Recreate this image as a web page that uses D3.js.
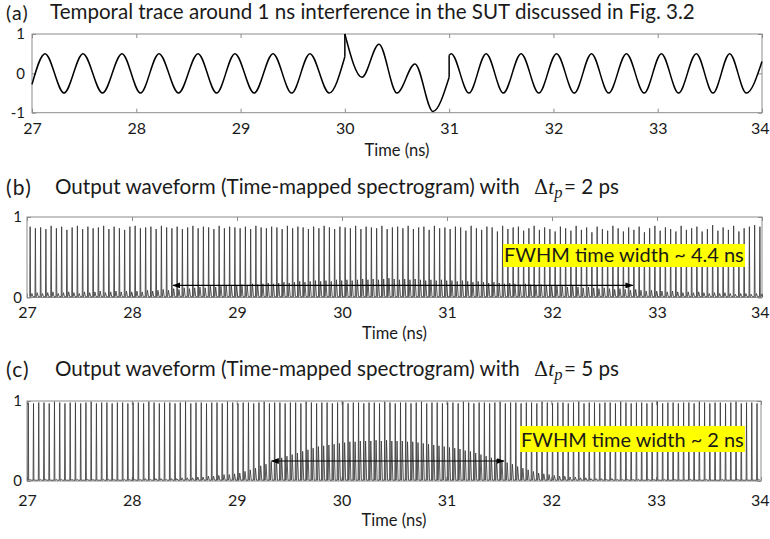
<!DOCTYPE html>
<html>
<head>
<meta charset="utf-8">
<script src="https://cdn.jsdelivr.net/npm/d3@7/dist/d3.min.js"></script>
<style>
  body { margin: 0; background: #fff; }
  svg text { font-family: Lato, "Open Sans", sans-serif; fill: #1a1a1a; }
</style>
</head>
<body>
<script>
const w = 770
const h = 539

// ---- values ----
const timeTicks = [27, 28, 29, 30, 31, 32, 33, 34]
const traceTicks = [-1, 0, 1]
const outputTicks = [0, 1]

// (a) turning points of the trace [time ns, amplitude]; a repeated time is a jump
const traceA = [
  [27.0, -0.28], [27.125, 0.5], [27.307, -0.5], [27.489, 0.5], [27.676, -0.5],
  [27.863, 0.5], [28.04, -0.5], [28.218, 0.5], [28.405, -0.5], [28.592, 0.5],
  [28.77, -0.5], [28.946, 0.5], [29.13, -0.5], [29.311, 0.5], [29.49, -0.5],
  [29.665, 0.5], [29.85, -0.5], [30.0, 0.42],
  [30.0, 1.0], [30.164, -0.1], [30.327, 0.74], [30.5, -0.5], [30.672, 0.24],
  [30.845, -0.97], [31.0, -0.1],
  [31.0, 0.46], [31.02, 0.5], [31.19, -0.5], [31.355, 0.5], [31.52, -0.5],
  [31.69, 0.5], [31.86, -0.5], [32.03, 0.5], [32.2, -0.5], [32.365, 0.5],
  [32.53, -0.5], [32.7, 0.5], [32.87, -0.5], [33.035, 0.5], [33.2, -0.5],
  [33.37, 0.5], [33.53, -0.5], [33.69, 0.5], [33.85, -0.5], [34.0, 0.3]
]

// (b), (c) one frame every 50 ps: tall tone peak and the low interference bump
const framePeriod = 0.05
const firstFrameB = 27.03
const firstFrameC = 27.012
const spikesB = [
  .88,.86,.87,.85,.89,.86,.88,.84,.87,.89,.85,.88,.86,.87,.89,.85,.88,.86,.84,.88,
  .89,.86,.87,.88,.85,.89,.87,.86,.88,.85,.87,.89,.86,.88,.87,.85,.89,.86,.88,.87,
  .86,.88,.85,.89,.87,.86,.88,.87,.85,.89,.86,.88,.87,.85,.88,.86,.89,.87,.85,.88,
  .87,.86,.89,.85,.88,.87,.86,.89,.85,.87,.88,.86,.89,.85,.87,.88,.84,.89,.86,.87,
  .85,.88,.87,.83,.89,.86,.84,.88,.87,.82,.89,.85,.87,.88,.83,.86,.89,.84,.87,.85,
  .82,.88,.86,.83,.89,.84,.87,.81,.88,.85,.83,.89,.86,.82,.87,.84,.88,.81,.86,.89,
  .83,.87,.85,.82,.89,.84,.86,.88,.82,.85,.90,.83,.87,.84,.89,.82,.86,.88,.90,.88
]
const bumpsB = [
  .05,.06,.05,.06,.07,.05,.06,.07,.06,.05,.07,.06,.07,.08,.06,.07,.08,.07,.08,.07,
  .08,.07,.09,.08,.09,.10,.09,.11,.10,.12,.11,.12,.13,.12,.14,.13,.14,.15,.14,.15,
  .16,.15,.17,.16,.17,.18,.17,.18,.19,.18,.19,.20,.19,.20,.21,.20,.21,.20,.22,.21,
  .22,.21,.22,.23,.22,.23,.22,.23,.24,.23,.22,.23,.22,.23,.22,.21,.22,.21,.22,.21,
  .21,.20,.21,.20,.19,.20,.19,.18,.19,.18,.17,.18,.17,.16,.17,.16,.15,.16,.15,.14,
  .15,.14,.13,.14,.13,.12,.13,.12,.11,.12,.11,.10,.11,.10,.09,.10,.09,.08,.09,.08,
  .08,.07,.08,.07,.06,.07,.06,.07,.06,.05,.06,.05,.06,.05,.04,.05,.05,.04,.05,.04
]
const spikesC = [
  .98,.97,.98,.98,.97,.99,.98,.97,.98,.98,.97,.98,.99,.97,.98,.98,.97,.98,.98,.97,
  .98,.98,.97,.99,.98,.97,.98,.98,.97,.98,.99,.97,.98,.98,.97,.98,.98,.97,.99,.98,
  .97,.98,.98,.97,.98,.99,.97,.98,.98,.97,.98,.98,.97,.99,.98,.97,.98,.98,.97,.98,
  .99,.97,.98,.98,.97,.98,.98,.97,.99,.98,.97,.98,.98,.97,.98,.99,.97,.98,.98,.97,
  .98,.98,.97,.99,.98,.97,.98,.98,.97,.98,.99,.97,.98,.98,.97,.98,.98,.97,.99,.98,
  .97,.98,.98,.97,.98,.99,.97,.98,.98,.97,.98,.98,.97,.99,.98,.97,.98,.98,.97,.98,
  .99,.97,.98,.98,.97,.98,.98,.97,.99,.98,.97,.98,.98,.97,.98,.99,.97,.98,.98,.97
]
const bumpsC = [
  .02,.01,.02,.02,.01,.02,.02,.01,.02,.02,.01,.02,.02,.01,.02,.02,.02,.01,.02,.02,
  .02,.02,.03,.02,.03,.03,.02,.03,.03,.04,.04,.04,.05,.05,.06,.06,.07,.08,.08,.09,
  .10,.12,.14,.16,.19,.21,.24,.26,.29,.31,.33,.35,.37,.39,.41,.43,.44,.45,.46,.47,
  .48,.49,.49,.50,.50,.50,.51,.50,.51,.50,.50,.50,.49,.49,.48,.47,.46,.45,.44,.43,
  .42,.41,.40,.38,.37,.35,.33,.31,.29,.27,.25,.23,.21,.18,.16,.14,.12,.10,.09,.08,
  .07,.06,.06,.05,.05,.04,.04,.03,.03,.03,.02,.03,.02,.02,.02,.02,.02,.01,.02,.02,
  .01,.02,.01,.02,.01,.01,.02,.01,.01,.02,.01,.01,.02,.01,.01,.02,.01,.01,.01,.02
]
const fwhmB = [28.39, 32.77]
const fwhmC = [29.33, 31.55]
const arrowLevelB = 0.15
const arrowLevelC = 0.25

const titleA = "Temporal trace around 1 ns interference in the SUT discussed  in Fig. 3.2"
const titleBC = "Output waveform (Time-mapped spectrogram) with"
const dtB = "= 2 ps"
const dtC = "= 5 ps"
const labelB = "FWHM time width ~ 4.4 ns"
const labelC = "FWHM time width ~ 2 ns"
const axisTitle = "Time (ns)"

// ---- drawing ----
const svg = d3.select("body").append("svg")
  .attr("width", w)
  .attr("height", h)

const defs = svg.append("defs")
defs.append("marker")
  .attr("id", "head")
  .attr("viewBox", "0 0 8 6")
  .attr("refX", 7.5).attr("refY", 3)
  .attr("markerWidth", 8).attr("markerHeight", 6)
  .attr("markerUnits", "userSpaceOnUse")
  .attr("orient", "auto-start-reverse")
  .append("path").attr("d", "M0,0 L8,3 L0,6 Z").attr("fill", "#000")

// scale a text's font size so it covers the width it has in the figure
const fitWidth = (sel, target) => {
  const fs = +sel.attr("font-size")
  const len = sel.node().getComputedTextLength()
  sel.attr("font-size", fs * target / len)
  return fs * target / len
}

const makePanel = (box, yDomain, yTickValues, pads) => {
  const x = d3.scaleLinear().domain([27, 34]).range([box.left, box.right])
  const y = d3.scaleLinear().domain(yDomain).range([box.bottom, box.top])
  const g = svg.append("g")

  g.append("g").attr("transform", `translate(0,${box.top})`)
    .call(d3.axisTop(x).tickValues(timeTicks).tickSizeInner(-4).tickSizeOuter(0).tickFormat(""))
  g.append("g").attr("transform", `translate(${box.right},0)`)
    .call(d3.axisRight(y).tickValues(yTickValues).tickSizeInner(-4).tickSizeOuter(0).tickFormat(""))
  const xAxis = g.append("g").attr("transform", `translate(0,${box.bottom})`)
    .call(d3.axisBottom(x).tickValues(timeTicks).tickSizeInner(-4).tickSizeOuter(0)
      .tickPadding(pads.x).tickFormat(d => String(d)))
  const yAxis = g.append("g").attr("transform", `translate(${box.left},0)`)
    .call(d3.axisLeft(y).tickValues(yTickValues).tickSizeInner(-4).tickSizeOuter(0)
      .tickPadding(pads.y).tickFormat(d => String(d)))

  g.selectAll(".domain").remove()
  g.selectAll(".tick line").attr("stroke", "#8c8c8c")
  xAxis.selectAll("text").attr("font-size", 16)
  // last label sits flush with the right edge of the picture
  xAxis.selectAll(".tick").filter(d => d === 34).select("text")
    .attr("text-anchor", "end").attr("x", w - box.right - 1)
  yAxis.selectAll("text").attr("font-size", 15)

  g.append("rect")
    .attr("x", box.left).attr("y", box.top)
    .attr("width", box.right - box.left).attr("height", box.bottom - box.top)
    .attr("fill", "none").attr("stroke", "#8c8c8c").attr("stroke-width", 1)

  g.append("text")
    .attr("x", (box.left + box.right) / 2).attr("y", pads.titleY)
    .attr("text-anchor", "middle").attr("font-size", 16.5)
    .text(axisTitle)

  return { x, y, g }
}

const drawTitle = (letter, y, parts) => {
  svg.append("text").attr("x", 6).attr("y", y + 0.5).attr("font-size", parts.letterSize)
    .attr("letter-spacing", 1.2).text(letter)
  const t = svg.append("text").attr("x", parts.x).attr("y", y).attr("font-size", 17).text(parts.text)
  return fitWidth(t, parts.width)
}

// ---------- (a) ----------
drawTitle("(a)", 19, { x: 50, text: titleA, width: 645, letterSize: 19.5 })
const pa = makePanel({ left: 32, right: 762, top: 34, bottom: 112.7 }, [-1, 1], traceTicks,
  { x: 10, y: 7, titleY: 156 })

const smooth = d3.line()
  .x(d => pa.x(d[0]))
  .y(d => pa.y(d[1]))
  .curve(d3.curveMonotoneX)

// split the trace where it jumps
const pieces = []
traceA.forEach((p, i) => {
  if (i === 0 || p[0] === traceA[i - 1][0]) pieces.push([])
  pieces[pieces.length - 1].push(p)
})
pa.g.selectAll("path.trace")
  .data(pieces)
  .enter().append("path")
  .attr("class", "trace")
  .attr("d", smooth)
  .attr("fill", "none").attr("stroke", "#000").attr("stroke-width", 1.5)
pa.g.selectAll("line.jump")
  .data(pieces.slice(1))
  .enter().append("line")
  .attr("class", "jump")
  .attr("x1", (d, i) => pa.x(pieces[i][pieces[i].length - 1][0]))
  .attr("y1", (d, i) => pa.y(pieces[i][pieces[i].length - 1][1]))
  .attr("x2", d => pa.x(d[0][0]))
  .attr("y2", d => pa.y(d[0][1]))
  .attr("stroke", "#000").attr("stroke-width", 1.5)

// ---------- (b) and (c) ----------
const framePoints = (first, spikes, bumps) => {
  const pts = []
  spikes.forEach((s, i) => {
    const t = first + i * framePeriod
    pts.push([t - 0.004, 0.01], [t, s], [t + 0.004, 0.01],
             [t + 0.01, 0.012], [t + 0.017, bumps[i]], [t + 0.027, 0.01])
  })
  return pts
}

const drawOutput = (letter, titleY, dt, box, pads, first, spikes, bumps, fwhm, level, label, labelBox) => {
  const fs = drawTitle(letter, titleY, { x: 55, text: titleBC, width: 465, letterSize: 21 })
  const m = svg.append("text").attr("y", titleY).attr("font-size", fs)
  m.append("tspan").attr("x", 534).style("font-family", "'DejaVu Serif', serif")
    .attr("font-size", fs * 0.95).text("Δ")
  m.append("tspan").style("font-family", "'Liberation Serif', serif").style("font-style", "italic")
    .attr("font-size", fs * 1.05).text("t")
  m.append("tspan").style("font-family", "'Liberation Serif', serif").style("font-style", "italic")
    .attr("font-size", fs * 0.8).attr("dy", 4).text("p")
  m.append("tspan").attr("dy", -4).attr("x", 564).text(dt)

  const p = makePanel(box, [0, 1], outputTicks, pads)
  const line = d3.line().x(d => p.x(d[0])).y(d => p.y(d[1]))
  p.g.append("path")
    .attr("d", line(framePoints(first, spikes, bumps)))
    .attr("fill", "none").attr("stroke", "#3a3a3a").attr("stroke-width", 0.85)

  p.g.append("line")
    .attr("x1", p.x(fwhm[0])).attr("x2", p.x(fwhm[1]))
    .attr("y1", p.y(level)).attr("y2", p.y(level))
    .attr("stroke", "#000").attr("stroke-width", 1.2)
    .attr("marker-start", "url(#head)").attr("marker-end", "url(#head)")

  p.g.append("rect")
    .attr("x", labelBox.x).attr("y", labelBox.y)
    .attr("width", labelBox.w).attr("height", labelBox.h)
    .attr("fill", "#ffff00")
  const lt = p.g.append("text")
    .attr("x", labelBox.x + 1).attr("y", labelBox.y + labelBox.h - 5)
    .attr("font-size", 19).text(label)
  fitWidth(lt, labelBox.w - 2)
}

drawOutput("(b)", 194, dtB, { left: 27, right: 762, top: 217, bottom: 297.5 },
  { x: 9, y: 5, titleY: 339 }, firstFrameB, spikesB, bumpsB, fwhmB, arrowLevelB, labelB,
  { x: 503, y: 244, w: 242, h: 23 })

drawOutput("(c)", 376, dtC, { left: 27, right: 761, top: 401, bottom: 481 },
  { x: 14, y: 5, titleY: 526 }, firstFrameC, spikesC, bumpsC, fwhmC, arrowLevelC, labelC,
  { x: 520, y: 426, w: 225, h: 26 })
</script>
</body>
</html>
